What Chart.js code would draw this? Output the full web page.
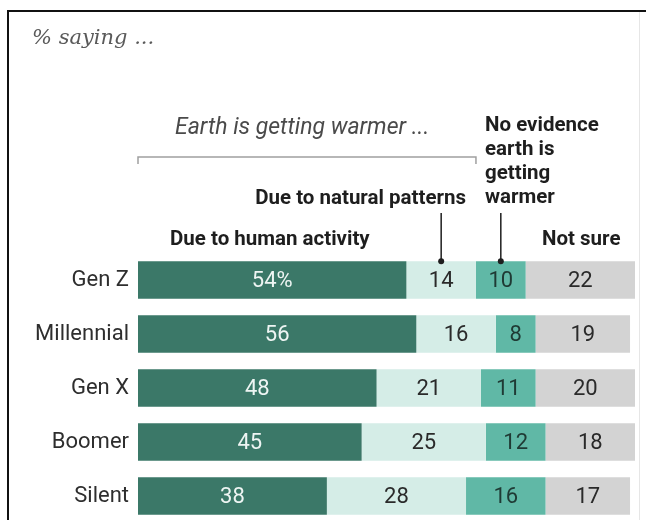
<!DOCTYPE html>
<html>
<head>
<meta charset="utf-8">
<script src="https://cdn.jsdelivr.net/npm/chart.js@4"></script>
<style>
    body { margin: 0; background: #fff; }
    #wrap { position: relative; width: 646px; height: 520px; overflow: hidden; background: #fff; }
    #frame { position: absolute; left: 7px; top: 10px; width: 660px; height: 520px;
        border-left: 2px solid #111; border-top: 2px solid #111; }
    #edge { position: absolute; left: 639px; top: 12px; width: 1px; height: 508px; background: #e6e6e6; }
    #chart-box { position: absolute; left: 0; top: 0; width: 646px; height: 526px; }
    .txt { position: absolute; white-space: nowrap; font-family: Roboto, sans-serif; }
    .hd { font-weight: bold; font-size: 20.5px; line-height: 24px; color: #1e1e1e; }
</style>
</head>
<body>
<div id="wrap">
    <div id="frame"></div>
    <div id="edge"></div>
    <div id="chart-box"><canvas id="bar-chart" width="646" height="526"></canvas></div>
    <div class="txt" style="left:32px; top:24px; font-family:'DejaVu Serif', serif; font-style:italic; font-size:21px; line-height:26px; color:#5a5a5a;">% saying ...</div>
    <div class="txt" style="left:175px; top:114px; font-style:italic; font-size:23px; line-height:26px; color:#4a4a4a;">Earth is getting warmer ...</div>
    <div class="txt hd" style="left:485px; top:112px;">No evidence<br>earth is<br>getting<br>warmer</div>
    <div class="txt hd" style="right:180px; top:185px; text-align:right;">Due to natural patterns</div>
    <div class="txt hd" style="left:170px; top:226px;">Due to human activity</div>
    <div class="txt hd" style="left:542px; top:226px;">Not sure</div>
</div>
<script>
const generations = ["Gen Z", "Millennial", "Gen X", "Boomer", "Silent"];
const humanActivity = [54, 56, 48, 45, 38];
const naturalPatterns = [14, 16, 21, 25, 28];
const noEvidence = [10, 8, 11, 12, 16];
const notSure = [22, 19, 20, 18, 17];

const colors = ["#3b7868", "#d5ede7", "#60b8a6", "#d3d3d3"];
const labelColors = ["#eef5f3", "#2a2a2a", "#1f3a34", "#2a2a2a"];

// numbers inside the bars
const barLabels = {
    id: "barLabels",
    afterDatasetsDraw(chart) {
        const ctx = chart.ctx;
        ctx.save();
        ctx.font = "22px Roboto, sans-serif";
        ctx.textAlign = "center";
        ctx.textBaseline = "middle";
        chart.data.datasets.forEach(function(ds, di) {
            chart.getDatasetMeta(di).data.forEach(function(bar, i) {
                var txt = String(ds.data[i]);
                if (di == 0 && i == 0) txt += "%";
                ctx.fillStyle = labelColors[di];
                ctx.fillText(txt, (bar.x + bar.base) / 2, bar.y + 1);
            });
        });
        ctx.restore();
    },
};

// bracket over "earth is getting warmer" and the two pointer lines
const headerLines = {
    id: "headerLines",
    afterDraw(chart) {
        const ctx = chart.ctx;
        const x = chart.scales.x;
        const first = chart.getDatasetMeta(0).data[0];
        const top = first.y - first.height / 2;
        ctx.save();
        ctx.strokeStyle = "#a0a0a0";
        ctx.lineWidth = 1.5;
        var x0 = x.getPixelForValue(0);
        var x1 = x.getPixelForValue(humanActivity[0] + naturalPatterns[0]);
        ctx.beginPath();
        ctx.moveTo(x0, 164);
        ctx.lineTo(x0, 157);
        ctx.lineTo(x1, 157);
        ctx.lineTo(x1, 164);
        ctx.stroke();

        ctx.strokeStyle = "#1e1e1e";
        ctx.fillStyle = "#1e1e1e";
        var pts = [
            humanActivity[0] + naturalPatterns[0] / 2,
            humanActivity[0] + naturalPatterns[0] + noEvidence[0] / 2,
        ];
        pts.forEach(function(v) {
            var px = x.getPixelForValue(v);
            ctx.beginPath();
            ctx.moveTo(px, 213);
            ctx.lineTo(px, top);
            ctx.stroke();
            ctx.beginPath();
            ctx.arc(px, top, 3, 0, Math.PI * 2);
            ctx.fill();
        });
        ctx.restore();
    },
};

const barChart = document.querySelector("#bar-chart");

new Chart(barChart, {
    type: "bar",
    data: {
        labels: generations,
        datasets: [
            { label: "Due to human activity", data: humanActivity, backgroundColor: colors[0] },
            { label: "Due to natural patterns", data: naturalPatterns, backgroundColor: colors[1] },
            { label: "No evidence earth is getting warmer", data: noEvidence, backgroundColor: colors[2] },
            { label: "Not sure", data: notSure, backgroundColor: colors[3] },
        ],
    },
    options: {
        indexAxis: "y",
        responsive: false,
        animation: false,
        layout: {
            padding: { top: 253, bottom: 3, left: 0, right: 11 },
        },
        datasets: {
            bar: { categoryPercentage: 1, barPercentage: 0.69, borderWidth: 0 },
        },
        scales: {
            x: {
                stacked: true,
                min: 0,
                max: 100,
                display: false,
            },
            y: {
                stacked: true,
                grid: { display: false, drawTicks: false },
                border: { display: false },
                afterFit: function(scale) {
                    scale.width = 138;
                    scale.paddingTop = 0;
                    scale.paddingBottom = 0;
                },
                ticks: {
                    color: "#2e2e2e",
                    padding: 9,
                    font: { family: "Roboto, sans-serif", size: 22 },
                },
            },
        },
        plugins: {
            legend: { display: false },
            tooltip: { enabled: false },
        },
    },
    plugins: [barLabels, headerLines],
});
</script>
</body>
</html>
